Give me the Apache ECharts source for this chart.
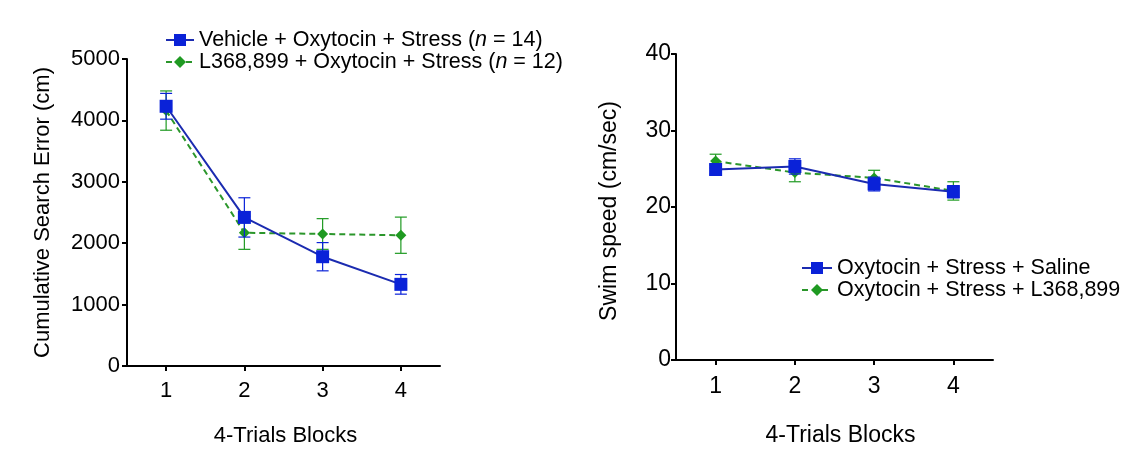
<!DOCTYPE html>
<html>
<head>
<meta charset="utf-8">
<script src="https://cdn.jsdelivr.net/npm/echarts@6/dist/echarts.min.js"></script>
<style>
html,body{margin:0;padding:0;background:#fff;}
#chart{width:1137px;height:452px;}
</style>
</head>
<body>
<div id="chart"></div>
<script>
// ---- data ----
const blocks = ['1', '2', '3', '4'];

// Left panel: cumulative search error (cm)
const vehicleMean = [4230, 2420, 1780, 1330];
const vehicleSem  = [210, 320, 230, 160];
const l368Mean    = [4160, 2170, 2150, 2130];
const l368Sem     = [320, 270, 250, 295];

// Right panel: swim speed (cm/sec)
const salineMean  = [24.9, 25.3, 23.0, 22.0];
const salineSem   = [0.6, 1.0, 0.9, 0.8];
const l368SpMean  = [26.0, 24.5, 23.8, 22.1];
const l368SpSem   = [0.9, 1.2, 1.0, 1.2];

const leftTicks  = {min: 0, max: 5000, interval: 1000};
const rightTicks = {min: 0, max: 40, interval: 10};

// ---- styles ----
const FONT = '"Liberation Sans", Arial, sans-serif';
const BLUE_LINE = '#1b2bb0';
const BLUE_MARK = '#0a22d8';
const GREEN_LINE = '#2b962b';
const GREEN_MARK = '#1f9a22';

function errData(mean, sem) {
  return mean.map((m, i) => [i, m - sem[i], m + sem[i]]);
}
function errRender(color) {
  return function (params, api) {
    const x = api.value(0);
    const lo = api.coord([x, api.value(1)]);
    const hi = api.coord([x, api.value(2)]);
    const w = 6;
    const style = {stroke: color, lineWidth: 1.2, fill: null};
    return {
      type: 'group',
      children: [
        {type: 'line', shape: {x1: lo[0], y1: lo[1], x2: hi[0], y2: hi[1]}, style: style},
        {type: 'line', shape: {x1: lo[0] - w, y1: lo[1], x2: lo[0] + w, y2: lo[1]}, style: style},
        {type: 'line', shape: {x1: hi[0] - w, y1: hi[1], x2: hi[0] + w, y2: hi[1]}, style: style}
      ]
    };
  };
}

function xAxis(gridIndex, fs, margin, nameGap, namePad) {
  return {
    gridIndex: gridIndex,
    type: 'category',
    data: blocks,
    boundaryGap: true,
    axisLine: {show: true, lineStyle: {color: '#000', width: 2}},
    axisTick: {show: true, alignWithLabel: true, length: 5, lineStyle: {color: '#000', width: 2}},
    axisLabel: {color: '#000', fontSize: fs, fontFamily: FONT, margin: margin},
    splitLine: {show: false},
    name: '4-Trials Blocks',
    nameLocation: 'middle',
    nameGap: nameGap,
    nameTextStyle: {color: '#000', fontSize: fs, fontFamily: FONT, padding: namePad}
  };
}
function yAxis(gridIndex, ticks, name, fs, margin, nameGap, namePad) {
  return {
    gridIndex: gridIndex,
    type: 'value',
    min: ticks.min, max: ticks.max, interval: ticks.interval,
    axisLine: {show: true, lineStyle: {color: '#000', width: 2}},
    axisTick: {show: true, length: 5, lineStyle: {color: '#000', width: 2}},
    axisLabel: {color: '#000', fontSize: fs, fontFamily: FONT, margin: margin,
      formatter: function (v) { return String(v); }},
    splitLine: {show: false},
    name: name,
    nameLocation: 'middle',
    nameRotate: 90,
    nameGap: nameGap,
    nameTextStyle: {color: '#000', fontSize: fs, fontFamily: FONT, padding: namePad}
  };
}

const legendText = {
  color: '#000', fontSize: 21.5, fontFamily: FONT, lineHeight: 22,
  rich: {i: {fontStyle: 'italic', fontSize: 21.5, fontFamily: FONT, color: '#000', lineHeight: 22}}
};

const option = {
  animation: false,
  backgroundColor: '#fff',
  grid: [
    {left: 127, right: 697, top: 59, bottom: 83},
    {left: 676, right: 144, top: 54, bottom: 87}
  ],
  xAxis: [
    xAxis(0, 22, 14, 59, [0, 0, 0, 4]),
    xAxis(1, 23, 15, 64, [0, 0, 0, 12])
  ],
  yAxis: [
    yAxis(0, leftTicks, 'Cumulative Search Error (cm)', 22, 7, 73, [0, 0, 0, 0]),
    yAxis(1, rightTicks, 'Swim speed (cm/sec)', 23, 5, 55, [0, 8, 0, 0])
  ],
  legend: [
    {
      data: ['Vehicle + Oxytocin + Stress', 'L368,899 + Oxytocin + Stress'],
      orient: 'vertical', left: 165, top: 29, padding: 0, itemGap: 0,
      itemWidth: 28, itemHeight: 15,
      textStyle: legendText,
      formatter: function (name) {
        return name === 'Vehicle + Oxytocin + Stress'
          ? name + ' ({i|n} = 14)' : name + ' ({i|n} = 12)';
      }
    },
    {
      data: ['Oxytocin + Stress + Saline', 'Oxytocin + Stress + L368,899'],
      orient: 'vertical', left: 801, top: 257, padding: 0, itemGap: 0,
      itemWidth: 30, itemHeight: 15,
      textStyle: legendText
    }
  ],
  series: [
    {
      name: 'Vehicle + Oxytocin + Stress', type: 'line', xAxisIndex: 0, yAxisIndex: 0,
      data: vehicleMean, symbol: 'rect', symbolSize: 13, z: 4,
      lineStyle: {color: BLUE_LINE, width: 2}, itemStyle: {color: BLUE_MARK}
    },
    {
      name: 'L368,899 + Oxytocin + Stress', type: 'line', xAxisIndex: 0, yAxisIndex: 0,
      data: l368Mean, symbol: 'diamond', symbolSize: 11, z: 3,
      lineStyle: {color: GREEN_LINE, width: 2, type: [6, 4]}, itemStyle: {color: GREEN_MARK}
    },
    {
      type: 'custom', xAxisIndex: 0, yAxisIndex: 0, z: 4,
      renderItem: errRender(BLUE_MARK), data: errData(vehicleMean, vehicleSem), silent: true
    },
    {
      type: 'custom', xAxisIndex: 0, yAxisIndex: 0, z: 3,
      renderItem: errRender(GREEN_MARK), data: errData(l368Mean, l368Sem), silent: true
    },
    {
      name: 'Oxytocin + Stress + Saline', type: 'line', xAxisIndex: 1, yAxisIndex: 1,
      data: salineMean, symbol: 'rect', symbolSize: 13, z: 4,
      lineStyle: {color: BLUE_LINE, width: 2}, itemStyle: {color: BLUE_MARK}
    },
    {
      name: 'Oxytocin + Stress + L368,899', type: 'line', xAxisIndex: 1, yAxisIndex: 1,
      data: l368SpMean, symbol: 'diamond', symbolSize: 11, z: 3,
      lineStyle: {color: GREEN_LINE, width: 2, type: [6, 4]}, itemStyle: {color: GREEN_MARK}
    },
    {
      type: 'custom', xAxisIndex: 1, yAxisIndex: 1, z: 4,
      renderItem: errRender(BLUE_MARK), data: errData(salineMean, salineSem), silent: true
    },
    {
      type: 'custom', xAxisIndex: 1, yAxisIndex: 1, z: 3,
      renderItem: errRender(GREEN_MARK), data: errData(l368SpMean, l368SpSem), silent: true
    }
  ]
};

const chart = echarts.init(document.getElementById('chart'), null, {renderer: 'canvas'});
chart.setOption(option);
</script>
</body>
</html>
